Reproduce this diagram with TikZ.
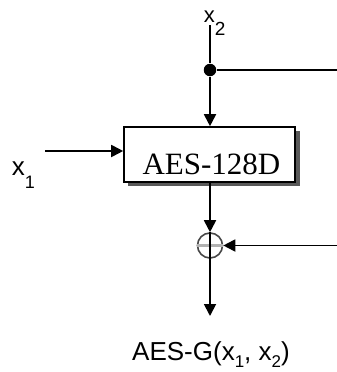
\documentclass[tikz,border=0pt]{standalone}
\usepackage{fontspec}
\setmainfont{Liberation Serif}
\newfontfamily\arialf{Liberation Sans}
\usetikzlibrary{arrows.meta}
\begin{document}
\begin{tikzpicture}[x=1pt,y=-1pt, line width=1.8pt,
  arr/.style={-{Triangle[length=12pt,width=12pt]}},
  lbl/.style={font=\arialf\fontsize{26}{26}\selectfont, inner sep=0pt, anchor=base west}]
\useasboundingbox (0,0) rectangle (337,372);
% shadow of the box
\fill[gray!70!black] (128,131) rectangle (299.5,186);
\node[draw, fill=white, minimum width=171pt, minimum height=55pt, inner sep=0pt, line width=1.6pt] (box) at (209.5,154.5) {};
\node[font=\fontsize{31}{31}\selectfont, inner sep=0pt, anchor=base] (boxtext) at (211.5,174) {AES-128D};
\node[circle, fill, inner sep=0pt, minimum size=12.5pt] (dot) at (210,70) {};
\coordinate (x2top) at (210,25);
\coordinate (rtop) at (337,70);
\node[circle, draw=gray!55!black, line width=1.6pt, minimum size=25pt, inner sep=0pt] (xor) at (210,245.5) {};
\draw[gray!60, line width=2.8pt] (xor.west) -- (xor.east);
\coordinate (rbot) at (337,245.5);
\coordinate (out) at (210,316);
\coordinate (x1s) at (45,151);
\draw (x2top) -- (dot);
\draw (dot) -- (rtop);
\draw[arr] (dot) -- (dot |- box.north);
\draw[arr] (x1s) -- (x1s -| box.west);
\draw[arr] (box.south -| xor) -- (xor.north);
\draw (xor.north) -- (xor.south);
\draw[arr] (xor.south) -- (out);
\draw[arr] (rbot) -- (xor.east);
\node[lbl] (x1) at (11,175) {x\raisebox{-13pt}{\fontsize{18}{18}\selectfont 1}};
\node[lbl, font=\arialf\fontsize{22}{22}\selectfont] (x2) at (203,23) {x\raisebox{-13pt}{\fontsize{19}{19}\selectfont 2}};
\node[lbl, anchor=base] (outl) at (211,360) {AES-G(x\raisebox{-7pt}{\fontsize{17}{17}\selectfont 1}, x\raisebox{-7pt}{\fontsize{17}{17}\selectfont 2})};
\end{tikzpicture}
\end{document}
